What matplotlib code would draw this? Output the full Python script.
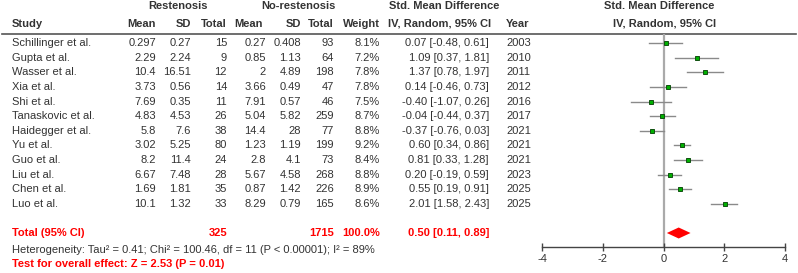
import matplotlib.pyplot as plt
from matplotlib.patches import Polygon

plt.rcParams['font.family'] = ['Liberation Sans', 'DejaVu Sans']

# data
studies = ['Schillinger et al.', 'Gupta et al.', 'Wasser et al.', 'Xia et al.', 'Shi et al.',
           'Tanaskovic et al.', 'Haidegger et al.', 'Yu et al.', 'Guo et al.', 'Liu et al.',
           'Chen et al.', 'Luo et al.']
r_mean = ['0.297', '2.29', '10.4', '3.73', '7.69', '4.83', '5.8', '3.02', '8.2', '6.67', '1.69', '10.1']
r_sd = ['0.27', '2.24', '16.51', '0.56', '0.35', '4.53', '7.6', '5.25', '11.4', '7.48', '1.81', '1.32']
r_total = [15, 9, 12, 14, 11, 26, 38, 80, 24, 28, 35, 33]
n_mean = ['0.27', '0.85', '2', '3.66', '7.91', '5.04', '14.4', '1.23', '2.8', '5.67', '0.87', '8.29']
n_sd = ['0.408', '1.13', '4.89', '0.49', '0.57', '5.82', '28', '1.19', '4.1', '4.58', '1.42', '0.79']
n_total = [93, 64, 198, 47, 46, 259, 77, 199, 73, 268, 226, 165]
weight = [8.1, 7.2, 7.8, 7.8, 7.5, 8.7, 8.8, 9.2, 8.4, 8.8, 8.9, 8.6]
smd = [0.07, 1.09, 1.37, 0.14, -0.40, -0.04, -0.37, 0.60, 0.81, 0.20, 0.55, 2.01]
lo = [-0.48, 0.37, 0.78, -0.46, -1.07, -0.44, -0.76, 0.34, 0.33, -0.19, 0.19, 1.58]
hi = [0.61, 1.81, 1.97, 0.73, 0.26, 0.37, 0.03, 0.86, 1.28, 0.59, 0.91, 2.43]
years = [2003, 2010, 2011, 2012, 2016, 2017, 2021, 2021, 2021, 2023, 2025, 2025]
total_r, total_n = 325, 1715
pooled, pooled_lo, pooled_hi = 0.50, 0.11, 0.89
xticks = [-4, -2, 0, 2, 4]

W, H = 798, 273
fig = plt.figure(figsize=(W / 100, H / 100), dpi=100)

# text layer in pixel units
tx = fig.add_axes([0, 0, 1, 1])
tx.set_xlim(0, W)
tx.set_ylim(H, 0)
tx.axis('off')

fs = 8.0
dark = '#333333'
row0, dy = 43, 14.64
ytot = 233

def t(x, y, s, ha='left', **kw):
    kw.setdefault('color', dark)
    tx.text(x, y, s, ha=ha, va='center', fontsize=fs, **kw)

# headers
t(178, 6, 'Restenosis', ha='center', fontweight='bold')
t(298, 6, 'No-restenosis', ha='center', fontweight='bold')
t(444, 6, 'Std. Mean Difference', ha='center', fontweight='bold')
t(659, 6, 'Std. Mean Difference', ha='center', fontweight='bold')
t(12, 24, 'Study', fontweight='bold')
t(156, 24, 'Mean', ha='right', fontweight='bold')
t(191, 24, 'SD', ha='right', fontweight='bold')
t(227, 24, 'Total', ha='right', fontweight='bold')
t(263, 24, 'Mean', ha='right', fontweight='bold')
t(301, 24, 'SD', ha='right', fontweight='bold')
t(334, 24, 'Total', ha='right', fontweight='bold')
t(380, 24, 'Weight', ha='right', fontweight='bold')
t(440, 24, 'IV, Random, 95% CI', ha='center', fontweight='bold')
t(506, 24, 'Year', fontweight='bold')
t(665, 24, 'IV, Random, 95% CI', ha='center', fontweight='bold')
tx.plot([2, 796], [34, 34], color='#555555', lw=1.2)

for i in range(len(studies)):
    y = row0 + i * dy
    t(12, y, studies[i])
    t(156, y, r_mean[i], ha='right')
    t(191, y, r_sd[i], ha='right')
    t(227, y, str(r_total[i]), ha='right')
    t(266, y, n_mean[i], ha='right')
    t(301, y, n_sd[i], ha='right')
    t(334, y, str(n_total[i]), ha='right')
    t(380, y, f'{weight[i]:.1f}%', ha='right')
    t(489, y, f'{smd[i]:.2f} [{lo[i]:.2f}, {hi[i]:.2f}]', ha='right')
    t(506, y, str(years[i]))

red = '#ff0000'
t(12, ytot, 'Total (95% CI)', color=red, fontweight='bold')
t(227, ytot, str(total_r), ha='right', color=red, fontweight='bold')
t(334, ytot, str(total_n), ha='right', color=red, fontweight='bold')
t(380, ytot, '100.0%', ha='right', color=red, fontweight='bold')
t(489, ytot, f'{pooled:.2f} [{pooled_lo:.2f}, {pooled_hi:.2f}]', ha='right', color=red, fontweight='bold')
t(12, 250, 'Heterogeneity: Tau² = 0.41; Chi² = 100.46, df = 11 (P < 0.00001); I² = 89%')
t(12, 264, 'Test for overall effect: Z = 2.53 (P = 0.01)', color=red, fontweight='bold')

# forest panel
x0, x1 = 542, 785
ytop, ybot = 34, 247
ax = fig.add_axes([x0 / W, 1 - ybot / H, (x1 - x0) / W, (ybot - ytop) / H])
ax.set_xlim(-4, 4)
ax.set_ylim(ybot, ytop)
ax.patch.set_alpha(0)
for s in ['top', 'left', 'right']:
    ax.spines[s].set_visible(False)
ax.spines['bottom'].set_color('#444444')
ax.spines['bottom'].set_linewidth(1.0)
ax.set_yticks([])
ax.set_xticks(xticks)
ax.set_xticklabels([str(v) for v in xticks])
ax.tick_params(axis='x', direction='inout', length=6, width=1, colors='#444444',
               labelsize=fs, labelcolor=dark, pad=2)
ax.axvline(0, color='#aaaaaa', lw=1.6, zorder=1)

for i in range(len(studies)):
    y = row0 + i * dy
    ax.plot([lo[i], hi[i]], [y, y], color='#8a8a8a', lw=1.0, zorder=2)
    ax.plot(smd[i], y, marker='s', ms=3.2, mfc='#00b000', mec='#105010', mew=0.7, zorder=3)

ax.add_patch(Polygon([[pooled_lo, ytot], [pooled, ytot - 5.5], [pooled_hi, ytot], [pooled, ytot + 5.5]],
                     closed=True, color=red, lw=0, zorder=3))

plt.savefig('out.png', dpi=100)
